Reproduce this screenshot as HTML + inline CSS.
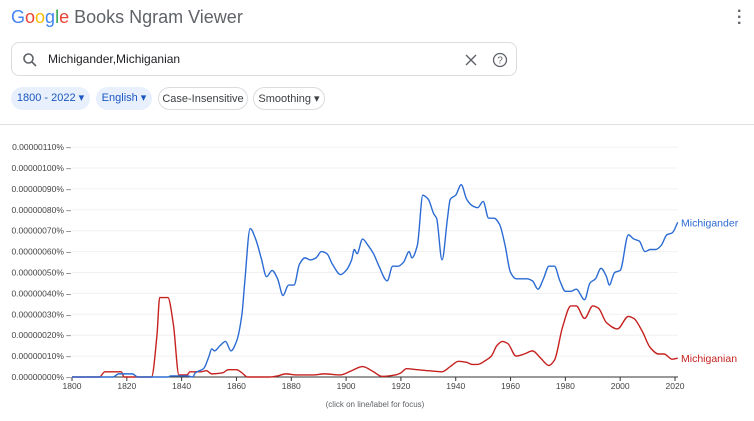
<!DOCTYPE html>
<html><head><meta charset="utf-8"><style>
body{margin:0;width:754px;height:421px;background:#fff;font-family:"Liberation Sans",sans-serif;position:relative;overflow:hidden}
.abs{position:absolute}
.chip{position:absolute;top:87px;height:23px;border-radius:12px;font-size:11px;line-height:23px;box-sizing:border-box;text-align:center;color:#3c4043}
</style></head><body>
<div class="abs" style="left:11px;top:7px;font-size:18px;color:#5f6368;white-space:nowrap">
<span><span style="color:#4285f4">G</span><span style="color:#ea4335">o</span><span style="color:#fbbc05">o</span><span style="color:#4285f4">g</span><span style="color:#34a853">l</span><span style="color:#ea4335">e</span></span> Books Ngram Viewer</div>
<div class="abs" style="left:737px;top:9px;font-size:16px;color:#5f6368;line-height:6px;font-weight:bold">·<br>·<br>·</div>
<div class="abs" style="left:11px;top:42px;width:506px;height:34px;border:1px solid #dadce0;border-radius:8px;box-sizing:border-box">
<svg class="abs" style="left:10px;top:9px" width="16" height="16"><circle cx="6.5" cy="6.5" r="4.5" fill="none" stroke="#5f6368" stroke-width="1.6"/><line x1="10" y1="10" x2="14" y2="14" stroke="#5f6368" stroke-width="1.6"/></svg>
<div class="abs" style="left:36px;top:9px;font-size:12px;color:#202124">Michigander,Michiganian</div>
<svg class="abs" style="left:453px;top:11px" width="12" height="12"><path d="M1 1L11 11M11 1L1 11" stroke="#5f6368" stroke-width="1.4"/></svg>
<svg class="abs" style="left:480px;top:9px" width="16" height="16"><circle cx="8" cy="8" r="6.5" fill="none" stroke="#5f6368" stroke-width="1.3"/><text x="8" y="11.5" font-size="10" text-anchor="middle" fill="#5f6368" font-family="Liberation Sans">?</text></svg>
</div>
<div class="chip" style="left:11px;width:79px;background:#e8f0fe;color:#1a57c0">1800 - 2022 ▾</div>
<div class="chip" style="left:96px;width:56px;background:#e8f0fe;color:#1a57c0">English ▾</div>
<div class="chip" style="left:158px;width:90px;border:1px solid #dadce0">Case-Insensitive</div>
<div class="chip" style="left:253px;width:72px;border:1px solid #dadce0">Smoothing ▾</div>
<div class="abs" style="left:0;top:124px;width:754px;height:1px;background:#e0e0e0"></div>
<svg class="abs" style="left:0;top:0" width="754" height="421" id="chart"></svg>
<div class="abs" style="left:0;width:750px;top:400px;text-align:center;font-size:8px;color:#5f6368">(click on line/label for focus)</div>
<script>
const yTicks=[0,10,20,30,40,50,60,70,80,90,100,110];
const xTicks=[1800,1820,1840,1860,1880,1900,1920,1940,1960,1980,2000,2020];
const michiganderYears=[1800,1815,1817,1822,1824,1835,1836,1842,1844,1845,1848,1850,1851,1852,1854,1856,1858,1860,1862,1863,1865,1867,1869,1871,1873,1875,1877,1879,1881,1883,1885,1887,1889,1891,1893,1895,1898,1900,1902,1903,1904,1906,1908,1910,1912,1915,1917,1919,1921,1923,1924,1926,1928,1930,1932,1933,1935,1937,1938,1940,1942,1944,1946,1948,1950,1952,1954,1956,1958,1960,1962,1964,1966,1968,1970,1972,1974,1976,1978,1980,1982,1984,1987,1989,1991,1993,1995,1996,1998,2000,2003,2005,2007,2009,2011,2013,2015,2017,2019,2021];
const michiganderValues=[0,0,1.5,1.5,0,0,0.5,0.5,0,2,4,10,13.5,12.5,15,17,12.5,17,30,45,71,66,57,48,51,47,39,44,44,54,57,56,57,60,59,54,49,51,56,61,59,66,63,59,53,46,53,53,55,60,57,63,87,85,78,76,56,76,85,87,92,85,82,81,84,76,76,73,63,50,47,47,47,46,42,47,53,53,46,41,41,42,37,45,47,52,48,44,50,51,68,66,65,60,61,61,63,68,69,74];
const michiganianYears=[1800,1810,1812,1818,1819,1829,1831,1832,1835,1837,1839,1842,1843,1847,1849,1851,1855,1857,1860,1862,1864,1872,1875,1878,1882,1888,1892,1898,1902,1906,1910,1913,1918,1920,1922,1926,1930,1935,1938,1941,1944,1946,1948,1951,1953,1955,1957,1959,1962,1965,1968,1971,1974,1976,1979,1982,1984,1987,1990,1992,1995,1999,2003,2005,2008,2011,2014,2016,2019,2021];
const michiganianValues=[0,0,2.5,2.5,0,0,20,38,38,25,1,1,2.5,2.5,3,1.5,2,3.5,3.5,2,0,0,0.5,1.5,1,1,1.5,1,3,5,2.5,0.3,1,2,4,3.5,3,2.5,5,7.5,7,6,6,8,10,15,17,16,10,11,12.5,9,5.5,8,24,34,34,28,34,33,26,23,29,28,22,14,11,11,8.5,9];
const NS="http://www.w3.org/2000/svg";
const svg=document.getElementById('chart');
const X=y=>72+(y-1800)*(603/220);
const Y=v=>377-v*2.09;
function mk(tag,attrs){const e=document.createElementNS(NS,tag);for(const k in attrs)e.setAttribute(k,attrs[k]);svg.appendChild(e);return e;}
yTicks.forEach(t=>{
 const g=mk('line',{x1:72,x2:678,y1:Y(t),y2:Y(t),stroke:t===0?'#333':'#f0f0f0','stroke-width':1});
 
 
 const lab=mk('text',{x:71,y:Y(t)+3,'text-anchor':'end','font-size':8.5,fill:'#444','font-family':'Liberation Sans'});
 lab.textContent='0.'+(String(t).padStart(8,'0'))+'% –';
 
 
});
xTicks.forEach(t=>{
 const tk=mk('line',{x1:X(t),x2:X(t),y1:377,y2:381,stroke:'#333'});
 
 
 const lab=mk('text',{x:X(t),y:389,'text-anchor':'middle','font-size':8.5,fill:'#444','font-family':'Liberation Sans'});
 lab.textContent=t;
 
 
});
// monotone cubic (Fritsch-Carlson) to avoid overshoot
function pathFor(ys,vs){
 const xs=ys.map(X),yy=vs.map(Y),n=xs.length;
 const d=[],m=new Array(n);
 for(let i=0;i<n-1;i++)d.push((yy[i+1]-yy[i])/(xs[i+1]-xs[i]));
 m[0]=d[0];m[n-1]=d[n-2];
 for(let i=1;i<n-1;i++){
  if(d[i-1]*d[i]<=0)m[i]=0;
  else{const w1=2*(xs[i+1]-xs[i])+(xs[i]-xs[i-1]),w2=(xs[i+1]-xs[i])+2*(xs[i]-xs[i-1]);m[i]=(w1+w2)/(w1/d[i-1]+w2/d[i]);}
 }
 let s='M'+xs[0]+','+yy[0];
 for(let i=0;i<n-1;i++){
  const h=(xs[i+1]-xs[i])/3;
  s+='C'+(xs[i]+h)+','+(yy[i]+m[i]*h)+' '+(xs[i+1]-h)+','+(yy[i+1]-m[i+1]*h)+' '+xs[i+1]+','+yy[i+1];
 }
 return s;
}
const red=mk('path',{d:pathFor(michiganianYears,michiganianValues),fill:'none',stroke:'#c5221f','stroke-width':1.4});


const blue=mk('path',{d:pathFor(michiganderYears,michiganderValues),fill:'none',stroke:'#2b6bd4','stroke-width':1.4});


const l1=mk('text',{x:681,y:Y(michiganderValues[michiganderValues.length-1])+4,'font-size':10.5,fill:'#2b6bd4','font-family':'Liberation Sans'});
l1.textContent='Michigander';


const l2=mk('text',{x:681,y:Y(michiganianValues[michiganianValues.length-1])+4,'font-size':10.5,fill:'#c5221f','font-family':'Liberation Sans'});
l2.textContent='Michiganian';


</script>
</body></html>
